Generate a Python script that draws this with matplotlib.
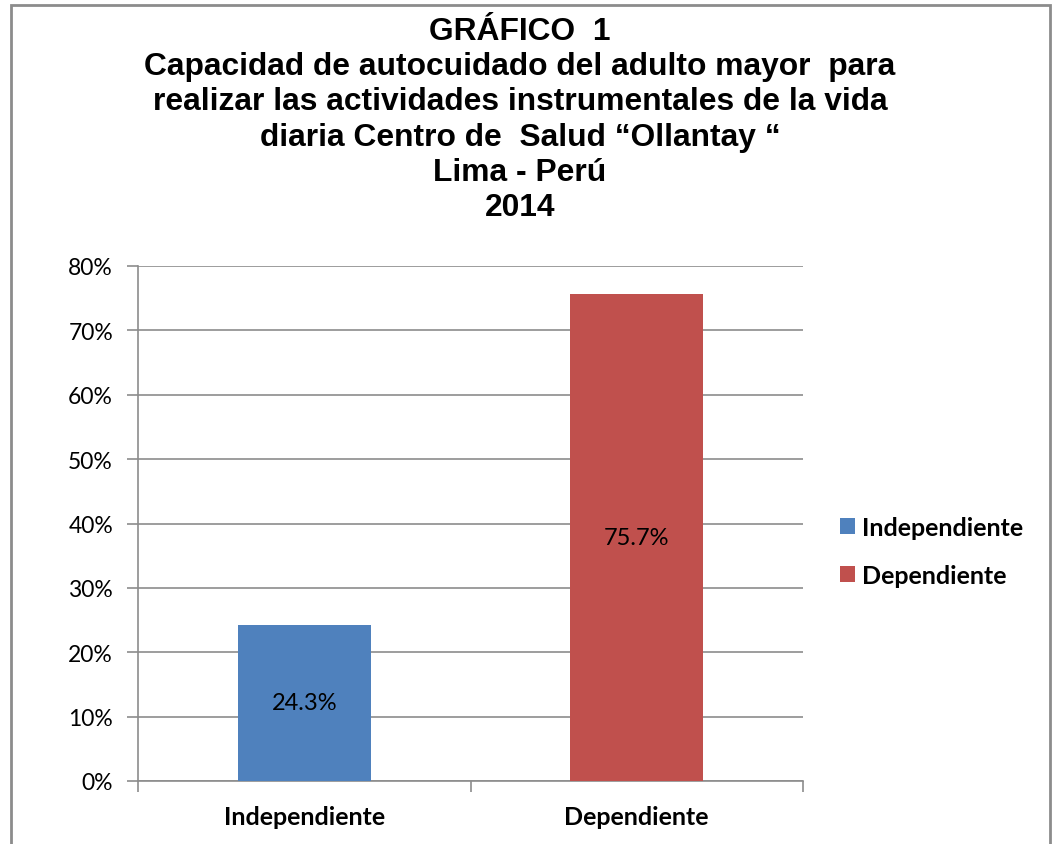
import matplotlib.pyplot as plt
from matplotlib.patches import Rectangle
from matplotlib.ticker import FuncFormatter

# ========== Data ==========

categories = ['Independiente', 'Dependiente']
values = [24.3, 75.7]
colors = ['#4F81BD', '#C0504D']
title_lines = [
    'GRÁFICO  1',
    'Capacidad de autocuidado del adulto mayor  para',
    'realizar las actividades instrumentales de la vida',
    'diaria Centro de  Salud \u201cOllantay \u201c',
    'Lima - Perú',
    '2014',
]

# ========== Figure ==========

fig = plt.figure(figsize=(10.56, 8.45), dpi=100)
W, H = 1056, 845

# outer chart frame
fig.patches.append(Rectangle((11 / W, -0.05), (1050 - 11) / W, 1.05 - 6 / H,
                             transform=fig.transFigure, fill=False,
                             edgecolor='#8c8c8c', linewidth=2))

ax = fig.add_axes([138 / W, 1 - 782 / H, (803 - 138) / W, (782 - 267) / H])

x = list(range(len(categories)))
bars = ax.bar(x, values, width=0.4, color=colors, zorder=3)
for b, v in zip(bars, values):
    ax.text(b.get_x() + b.get_width() / 2, v / 2, f'{v}%', ha='center',
            va='center', fontsize=17, family='Lato', zorder=4)

ax.set_xlim(-0.5, 1.5)
ax.set_ylim(0, 80)
ax.set_yticks(range(0, 81, 10))
ax.yaxis.set_major_formatter(FuncFormatter(lambda v, p: f'{int(v)}%'))
ax.grid(axis='y', color='#8c8c8c', linewidth=1.2, zorder=0)

ax.set_xticks([-0.5, 0.5, 1.5])
ax.set_xticklabels([])
ax.set_xticks(x, minor=True)
ax.set_xticklabels(categories, minor=True, fontsize=18, fontweight='bold', family='Lato')
ax.tick_params(axis='x', which='minor', length=0, pad=17)
ax.tick_params(axis='x', which='major', length=8, color='#8c8c8c', width=1.2)
ax.tick_params(axis='y', length=8, color='#8c8c8c', width=1.2, labelsize=16.5, pad=10)
for lbl in ax.get_yticklabels():
    lbl.set_family('Lato')

for s in ['top', 'right']:
    ax.spines[s].set_visible(False)
ax.spines['left'].set_color('#8c8c8c')
ax.spines['bottom'].set_color('#8c8c8c')
ax.spines['left'].set_linewidth(1.2)
ax.spines['bottom'].set_linewidth(1.2)

# title
for i, line in enumerate(title_lines):
    fig.text(520 / W, 1 - (32 + i * 35.2) / H, line, ha='center', va='center',
             fontsize=22.9, fontweight='bold', family='Liberation Sans')

# legend
leg = fig.legend(bars, categories, loc='center left',
                 bbox_to_anchor=(817 / W, 1 - 552 / H), frameon=False,
                 prop={'family': 'Lato', 'weight': 'bold', 'size': 18},
                 handlelength=0.6, handleheight=0.6, handletextpad=0.3,
                 labelspacing=1.0)

fig.savefig('out.png', dpi=100)
